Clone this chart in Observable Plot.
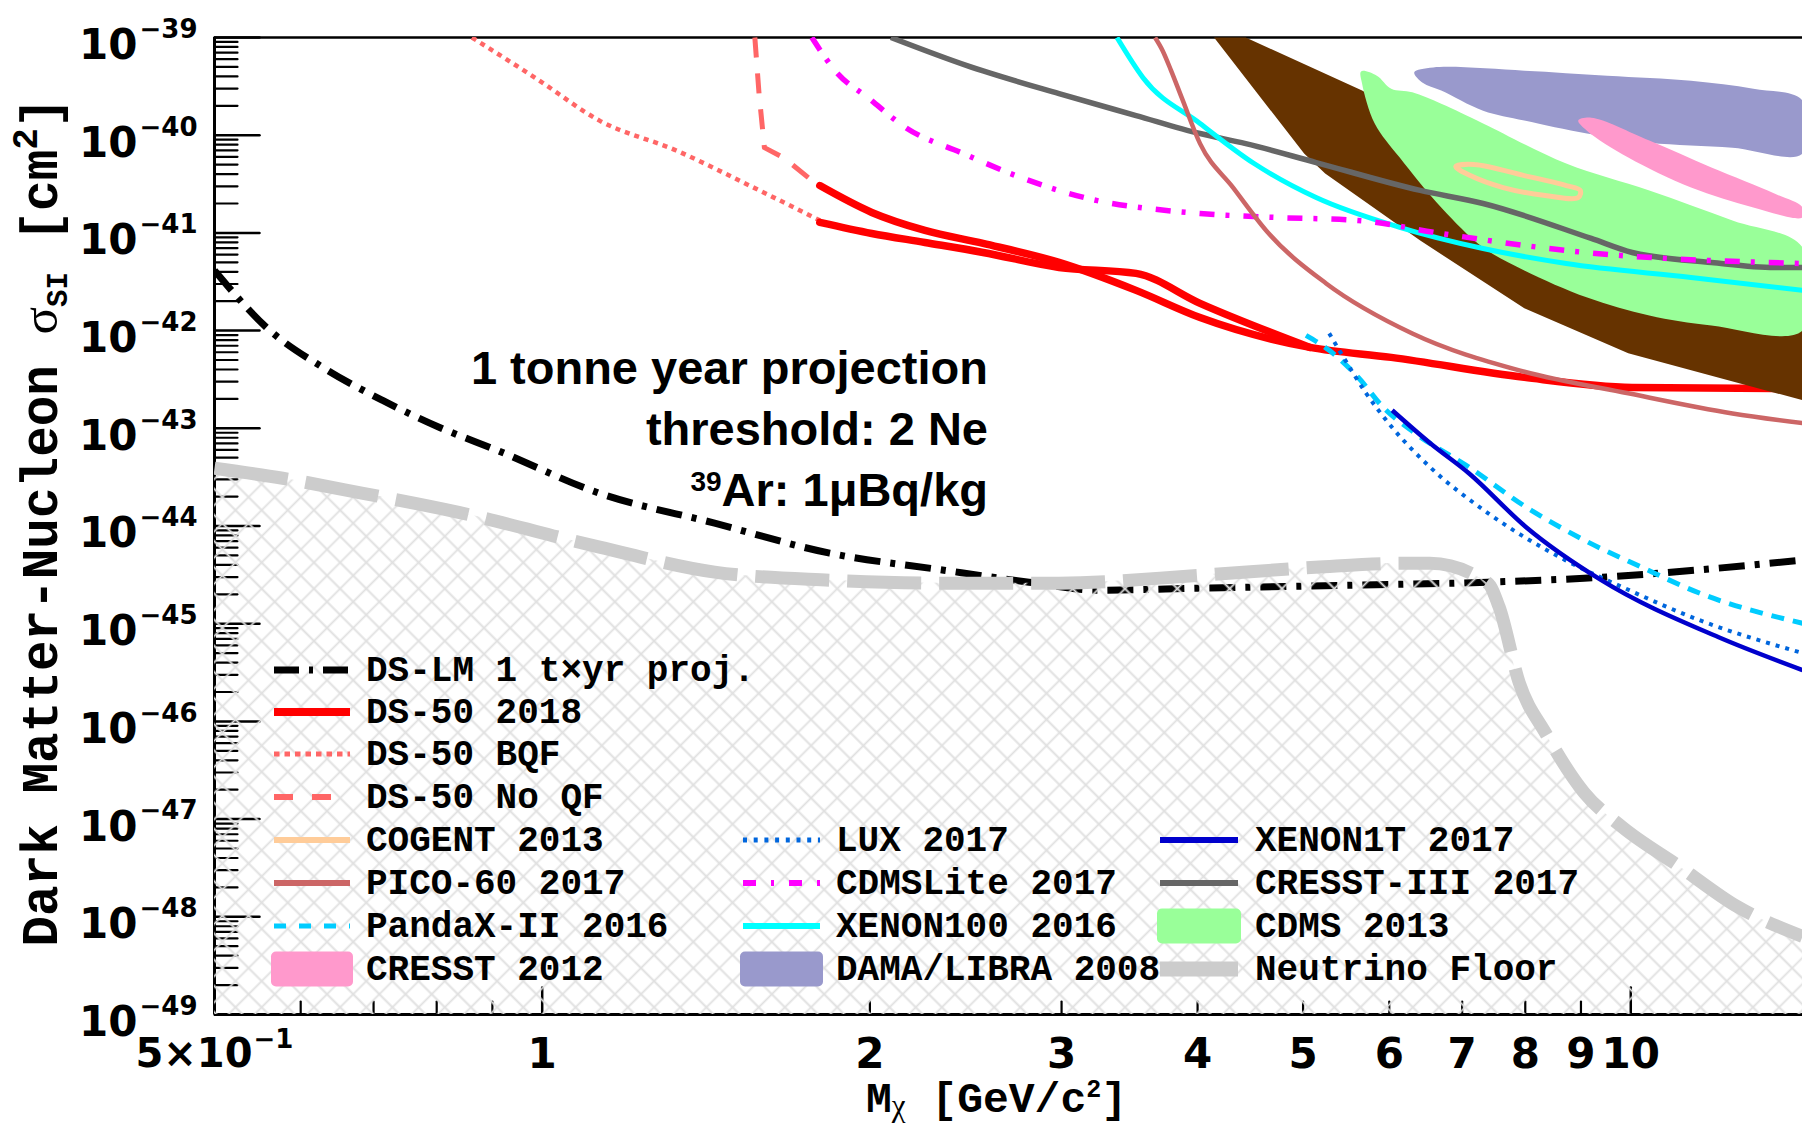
<!DOCTYPE html>
<html><head><meta charset="utf-8">
<script src="https://cdn.jsdelivr.net/npm/d3@7"></script>
<script src="https://cdn.jsdelivr.net/npm/@observablehq/plot@0.6"></script>
<style>html,body{margin:0;padding:0;background:#fff;}</style>
</head><body><div id="chart"></div>
<script>
// ---------------- data (mass in GeV/c^2, cross-section in cm^2) ----------------
const DS_LM = [[0.5,4.13e-42],[0.5595,1.05e-42],[0.631,4.1e-43],[0.7136,1.93e-43],[0.805,1.02e-43],[0.909,5.96e-44],[1.129,2.16e-44],[1.44,1.07e-44],[1.837,5.27e-45],[2.339,3.53e-45],[2.80,2.66e-45],[3.233,2.2e-45],[4.02,2.31e-45],[5.56,2.48e-45],[7.39,2.66e-45],[9.06,2.92e-45],[14.38,4.47e-45]];
const DS50_BQF = [[0.862,1.0e-39],[0.988,3.79e-40],[1.129,1.41e-40],[1.328,6.97e-41],[1.562,2.93e-41],[1.80,1.34e-41]];
const DS50_NOQF = [[1.568,1.0e-39],[1.582,2.66e-40],[1.600,7.46e-41],[1.666,5.9e-41],[1.769,3.44e-41],[1.80,3.05e-41]];
const DS50_A = [[1.799,3.05e-41],[2.008,1.62e-41],[2.247,1.06e-41],[2.541,7.80e-42],[2.984,4.99e-42],[3.512,2.58e-42],[4.021,1.36e-42],[5.074,6.73e-43],[6.025,5.32e-43],[7.984,3.32e-43],[10.03,2.62e-43],[13.55,2.56e-43],[14.38,2.56e-43]];
const DS50_B = [[1.799,1.28e-41],[2.008,9.86e-42],[2.247,7.98e-42],[2.541,6.31e-42],[2.984,4.43e-42],[3.512,3.85e-42],[4.021,1.90e-42],[5.074,6.73e-43]];
const CRESST3 = [[2.091,1.0e-39],[2.456,5.15e-40],[2.984,2.66e-40],[3.512,1.59e-40],[4.021,1.04e-40],[4.429,8.2e-41],[5.14,5.25e-41],[6.406,2.72e-41],[7.317,2.0e-41],[9.198,8.77e-42],[10.03,6.3e-42],[11.86,4.99e-42],[13.55,4.43e-42],[14.38,4.43e-42]];
const XENON100 = [[3.373,1.0e-39],[3.564,3.88e-40],[4.021,1.32e-40],[4.508,5.13e-41],[5.14,2.30e-41],[6.134,1.14e-41],[7.317,6.92e-42],[8.724,4.86e-42],[11.36,3.50e-42],[14.38,2.58e-42]];
const CDMSLITE = [[1.769,1.0e-39],[1.865,4.36e-40],[1.992,2.42e-40],[2.159,1.19e-40],[2.438,6.48e-41],[2.754,3.68e-41],[3.236,2.14e-41],[3.617,1.77e-41],[4.021,1.58e-41],[4.712,1.44e-41],[5.617,1.34e-41],[6.697,9.86e-42],[8.724,6.6e-42],[14.38,4.86e-42]];
const PICO60 = [[3.656,1.0e-39],[3.715,7.33e-40],[3.782,4.58e-40],[3.868,2.42e-40],[4.021,8.2e-41],[4.312,2.91e-41],[4.65,9.86e-42],[5.25,3.04e-42],[6.30,9.35e-43],[7.90,3.92e-43],[9.947,2.28e-43],[12.40,1.42e-43],[14.38,1.13e-43]];
const PANDAX = [[5.031,8.93e-43],[5.284,6.28e-43],[5.617,3.33e-43],[5.923,1.64e-43],[6.338,8.89e-44],[7.106,3.99e-44],[8.015,1.56e-44],[9.063,7.16e-45],[10.23,3.79e-45],[11.56,2.06e-45],[14.38,1.01e-45]];
const LUX = [[5.284,9.37e-43],[5.419,5.85e-43],[5.714,2.28e-43],[6.037,1.02e-43],[6.543,3.99e-44],[7.397,1.35e-44],[8.706,4.47e-45],[9.822,2.37e-45],[11.56,1.09e-45],[14.38,5.01e-46]];
const XENON1T = [[6.037,1.53e-43],[6.543,7.03e-44],[7.10,3.47e-44],[8.015,9.72e-45],[9.396,2.79e-45],[12.03,7.3e-46],[14.38,3.35e-46]];
const NU_FLOOR = [[0.5,3.9e-44],[0.5775,3.08e-44],[0.6846,2.16e-44],[0.838,1.38e-44],[1.129,6.07e-45],[1.44,3.37e-45],[1.837,2.79e-45],[2.339,2.6e-45],[2.983,2.6e-45],[4.02,3.13e-45],[5.13,3.78e-45],[6.18,4.16e-45],[6.54,4.16e-45],[7.39,2.6e-45],[7.57,1.48e-45],[7.90,2.47e-46],[8.35,7.6e-47],[9.06,1.87e-47],[9.82,8.3e-48],[11.1,3.24e-48],[12.53,1.27e-48],[14.38,6.3e-49]];
const BROWN_BAND = [[4.142,1e-39],[4.429,1e-39],[5.665,2.86e-40],[6.825,8.81e-41],[9.376,1.34e-41],[14.38,2.58e-42],[14.38,1.94e-43],[9.947,5.85e-43],[7.984,1.69e-42],[6.406,8.35e-42],[5.239,4.05e-41],[5.011,6.48e-41]];
const CDMS2013 = [[5.653,4.50e-40],[5.844,4.07e-40],[6.025,2.99e-40],[6.299,2.75e-40],[6.697,2.10e-40],[7.317,1.32e-40],[8.724,5.13e-41],[10.40,2.72e-41],[12.40,1.34e-41],[14.38,7.10e-42],[14.38,1.00e-42],[11.86,1.13e-42],[10.40,1.43e-42],[9.12,2.18e-42],[7.984,4.13e-42],[7.317,7.10e-42],[6.697,1.82e-41],[6.134,5.90e-41],[5.818,1.32e-40],[5.665,3.37e-40]];
const DAMA = [[6.326,4.40e-40],[6.585,4.94e-40],[7.984,4.58e-40],[9.515,4.07e-40],[11.36,3.61e-40],[12.96,2.99e-40],[14.38,2.26e-40],[14.38,6.48e-41],[12.40,7.46e-41],[10.40,8.39e-41],[9.114,1.04e-40],[7.984,1.41e-40],[7.317,1.78e-40],[6.697,2.86e-40],[6.439,3.45e-40]];
const CRESST2012 = [[8.949,1.41e-40],[9.198,1.51e-40],[10.40,8.81e-41],[11.86,4.67e-41],[13.55,2.53e-41],[14.38,1.82e-41],[14.38,1.44e-41],[12.96,1.82e-41],[11.36,2.91e-41],[9.947,5.90e-41],[9.114,1.11e-40]];
const COGENT = [[6.906,4.78e-41],[7.182,5.01e-41],[7.984,3.86e-41],[8.724,3.05e-41],[8.987,2.72e-41],[8.949,2.30e-41],[8.345,2.41e-41],[7.634,2.91e-41],[7.121,3.86e-41]];

// ticks and tick labels
const yExponents = [-39,-40,-41,-42,-43,-44,-45,-46,-47,-48,-49];
const xMajorTicks = [1, 10];
const xMinorTicks = [0.6,0.7,0.8,0.9,2,3,4,5,6,7,8,9];
const xLabelValues = [1,2,3,4,5,6,7,8,9,10];
const xLabelTexts = ["1","2","3","4","5","6","7","8","9","10"];
const yMinorTicks = [];
for (let e = -49; e < -39; e++) for (let k = 2; k <= 9; k++) yMinorTicks.push(k * Math.pow(10, e));

// legend
const legendNames = ["DS-LM 1 t×yr proj.","DS-50 2018","DS-50 BQF","DS-50 No QF","COGENT 2013","PICO-60 2017","PandaX-II 2016","CRESST 2012","LUX 2017","CDMSLite 2017","XENON100 2016","DAMA/LIBRA 2008","XENON1T 2017","CRESST-III 2017","CDMS 2013","Neutrino Floor"];

// ---------------- styles ----------------
const MONO = "'Liberation Mono','DejaVu Sans Mono',monospace";
const SANS = "'Liberation Sans',Arial,Helvetica,sans-serif";
const TICKF = "'DejaVu Sans',Verdana,sans-serif";
const SERIF = "'Liberation Serif','DejaVu Serif',serif";
const X = d => d[0], Y = d => d[1];
const tickShape = {draw(ctx, l) { ctx.moveTo(0, 0); ctx.lineTo(0, -l); }};

const hatchDefs = () => {
  const defs = d3.create("svg:defs");
  const p = defs.append("pattern").attr("id", "hatch").attr("patternUnits", "userSpaceOnUse")
    .attr("width", 18.5).attr("height", 18.5).attr("patternTransform", "rotate(45)");
  p.append("path").attr("d", "M0,9.25H18.5M9.25,0V18.5").attr("stroke", "#e0e0e0").attr("stroke-width", 1.8).attr("fill", "none");
  return defs.node();
};

const ln = (data, o) => Plot.line(data, {x: X, y: Y, clip: true, curve: "monotone-x", strokeLinecap: "butt", ...o});
const blob = (data, fill) => Plot.line(data, {x: X, y: Y, clip: true, fill, stroke: "none", curve: "catmull-rom-closed"});
const lab = {fontWeight: "bold", fontFamily: TICKF, fill: "black", lineAnchor: "middle"};

const chart = Plot.plot({
  width: 1802, height: 1123,
  marginLeft: 214, marginRight: 0, marginTop: 37, marginBottom: 109,
  x: {type: "log", domain: [0.5, 14.38], axis: null},
  y: {type: "log", domain: [1e-49, 1e-39], axis: null},
  style: {background: "white", overflow: "visible"},
  marks: [
    hatchDefs,
    // ticks (inside)
    Plot.vector(yExponents, {y: e => Math.pow(10, e), frameAnchor: "left", length: 45, rotate: 90, anchor: "start", shape: tickShape, stroke: "black", strokeWidth: 2.5}),
    Plot.vector(yMinorTicks, {y: d => d, frameAnchor: "left", length: 23, rotate: 90, anchor: "start", shape: tickShape, stroke: "black", strokeWidth: 2.2}),
    Plot.vector(xMajorTicks, {x: d => d, frameAnchor: "bottom", length: 27, rotate: 0, anchor: "start", shape: tickShape, stroke: "black", strokeWidth: 2.5}),
    Plot.vector(xMinorTicks, {x: d => d, frameAnchor: "bottom", length: 13, rotate: 0, anchor: "start", shape: tickShape, stroke: "black", strokeWidth: 2.2}),
    Plot.ruleY([1e-39], {stroke: "black", strokeWidth: 2.5}),
    Plot.ruleX([0.5], {stroke: "black", strokeWidth: 3}),
    Plot.ruleY([1e-49], {stroke: "black", strokeWidth: 3}),
    // DS-50
    ln(DS50_BQF, {stroke: "#ff6666", strokeWidth: 4.5, strokeDasharray: "5,5"}),
    ln(DS50_NOQF, {stroke: "#ff6666", strokeWidth: 5, strokeDasharray: "20,16", curve: "linear"}),
    ln(DS50_A, {stroke: "#ff0000", strokeWidth: 7.5, strokeLinecap: "round"}),
    ln(DS50_B, {stroke: "#ff0000", strokeWidth: 7.5, strokeLinecap: "round"}),
    // regions
    Plot.line(BROWN_BAND, {x: X, y: Y, clip: true, fill: "#663300", stroke: "none", curve: "linear-closed"}),
    blob(CDMS2013, "#99ff99"),
    blob(DAMA, "#9999cc"),
    blob(CRESST2012, "#ff99cc"),
    Plot.line(COGENT, {x: X, y: Y, clip: true, fill: "none", stroke: "#ffcc99", strokeWidth: 5, curve: "catmull-rom-closed"}),
    // other limits
    ln(CRESST3, {stroke: "#666666", strokeWidth: 5.5}),
    ln(XENON100, {stroke: "#00ffff", strokeWidth: 5}),
    ln(CDMSLITE, {stroke: "#ff00ff", strokeWidth: 5.5, strokeDasharray: "15,11,4,14"}),
    ln(PICO60, {stroke: "#cc6666", strokeWidth: 4.5}),
    ln(DS_LM, {stroke: "black", strokeWidth: 7, strokeDasharray: "26,10,5,10"}),
    ln(PANDAX, {stroke: "#00ccff", strokeWidth: 5, strokeDasharray: "13,9"}),
    ln(LUX, {stroke: "#0066dd", strokeWidth: 4, strokeDasharray: "4,6"}),
    ln(XENON1T, {stroke: "#0000cc", strokeWidth: 4.5}),
    // neutrino floor
    Plot.areaY(NU_FLOOR, {x: X, y1: 1e-49, y2: Y, fill: "url(#hatch)", curve: "monotone-x", clip: true}),
    ln(NU_FLOOR, {stroke: "#cccccc", strokeWidth: 13, strokeDasharray: "74,18"}),
    // tick labels
    Plot.text(yExponents, {y: e => Math.pow(10, e), frameAnchor: "left", text: () => "10", textAnchor: "end", dx: -77, dy: 8, fontSize: 42, ...lab}),
    Plot.text(yExponents, {y: e => Math.pow(10, e), frameAnchor: "left", text: e => "\u2212" + Math.abs(e), textAnchor: "start", dx: -75, dy: -8, fontSize: 26, ...lab}),
    Plot.text(xLabelValues, {x: d => d, frameAnchor: "bottom", text: (d, i) => xLabelTexts[i], dy: 40, fontSize: 42, ...lab}),
    Plot.text([0.5], {x: d => d, frameAnchor: "bottom", text: () => "5\u00d710", textAnchor: "end", dx: 38, dy: 40, fontSize: 40, ...lab}),
    Plot.text([0.5], {x: d => d, frameAnchor: "bottom", text: () => "\u22121", textAnchor: "start", dx: 39, dy: 25, fontSize: 26, ...lab})
  ]
});
document.getElementById("chart").append(chart);

// ---------------- legend, annotations, axis titles ----------------
const svg = d3.select(chart);
const legendStyles = [
  {col:0,row:0,stroke:"black",w:7,dash:"25,10,4,10"},
  {col:0,row:1,stroke:"#ff0000",w:8},
  {col:0,row:2,stroke:"#ff6666",w:5,dash:"5.5,5"},
  {col:0,row:3,stroke:"#ff6666",w:6,dash:"19,19"},
  {col:0,row:4,stroke:"#ffcc99",w:6},
  {col:0,row:5,stroke:"#cc6666",w:6},
  {col:0,row:6,stroke:"#00ccff",w:5,dash:"12,13"},
  {col:0,row:7,box:"#ff99cc"},
  {col:1,row:4,stroke:"#0066dd",w:5,dash:"4,6.7"},
  {col:1,row:5,stroke:"#ff00ff",w:6,dash:"13,15,3,15"},
  {col:1,row:6,stroke:"#00ffff",w:6},
  {col:1,row:7,box:"#9999cc"},
  {col:2,row:4,stroke:"#0000cc",w:6},
  {col:2,row:5,stroke:"#666666",w:6},
  {col:2,row:6,box:"#99ff99"},
  {col:2,row:7,stroke:"#cccccc",w:15}
];
const colX = [[274, 350, 366], [743, 820, 836], [1160, 1238, 1255]];
const rowY = [670, 712, 754, 797, 840, 883, 926, 969];
const LG = svg.append("g").attr("font-family", MONO).attr("font-weight", "bold").attr("font-size", 36).attr("text-anchor", "start");
legendStyles.forEach((s, i) => {
  const [x0, x1, tx] = colX[s.col], y = rowY[s.row];
  if (s.box) {
    LG.append("rect").attr("x", x0 - 3).attr("y", y - 17.5).attr("width", x1 - x0 + 6).attr("height", 35).attr("rx", 5).attr("fill", s.box);
  } else {
    LG.append("line").attr("x1", x0).attr("x2", x1).attr("y1", y).attr("y2", y)
      .attr("stroke", s.stroke).attr("stroke-width", s.w).attr("stroke-dasharray", s.dash || null);
  }
  LG.append("text").attr("x", tx).attr("y", y + 11).attr("fill", "black").text(legendNames[i]);
});

const AN = svg.append("g").attr("font-family", SANS).attr("font-weight", "bold").attr("font-size", 47).attr("text-anchor", "end").attr("fill", "black");
AN.append("text").attr("x", 988).attr("y", 384).text("1 tonne year projection");
AN.append("text").attr("x", 988).attr("y", 445).text("threshold: 2 Ne");
const t3 = AN.append("text").attr("x", 988).attr("y", 506);
t3.append("tspan").attr("font-size", 28).attr("dy", -15).text("39");
t3.append("tspan").attr("dy", 15).text("Ar: 1\u03bcBq/kg");

// y title
const yt = svg.append("text").attr("transform", "translate(57,522) rotate(-90)").attr("text-anchor", "middle")
  .attr("font-family", MONO).attr("font-weight", "bold").attr("font-size", 51).attr("fill", "black");
yt.append("tspan").text("Dark Matter-Nucleon ");
yt.append("tspan").attr("font-family", SERIF).attr("font-weight", "normal").text("\u03c3");
yt.append("tspan").attr("font-size", 29).attr("dy", 10).text("SI");
yt.append("tspan").attr("dy", -10).text(" [cm");
yt.append("tspan").attr("font-size", 36).attr("dy", -20).text("2");
yt.append("tspan").attr("dy", 20).text("]");

// x title
const xt = svg.append("text").attr("x", 866).attr("y", 1112).attr("text-anchor", "start")
  .attr("font-family", MONO).attr("font-weight", "bold").attr("font-size", 43).attr("fill", "black");
xt.append("tspan").text("M");
xt.append("tspan").attr("font-family", SERIF).attr("font-weight", "normal").attr("font-size", 31).attr("dy", 4).text("\u03c7");
xt.append("tspan").attr("dy", -4).text(" [GeV/c");
xt.append("tspan").attr("font-size", 25).attr("dy", -15).text("2");
xt.append("tspan").attr("dy", 15).text("]");
</script>
</body></html>
